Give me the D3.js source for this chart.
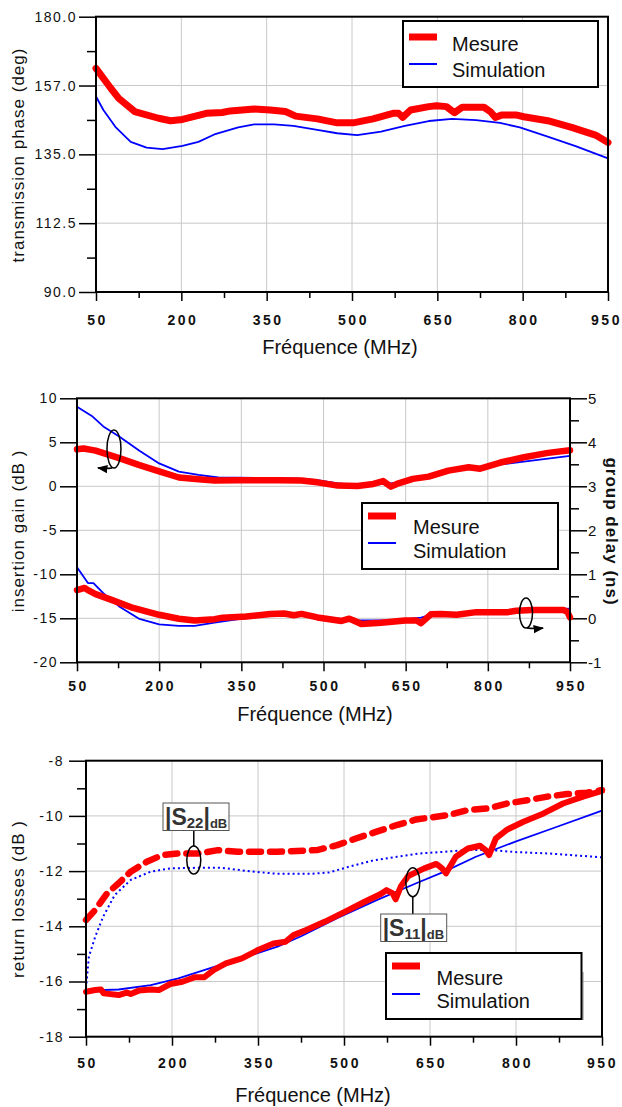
<!DOCTYPE html>
<html lang="fr">
<head>
<meta charset="UTF-8">
<title>Mesure / Simulation</title>
<script src="https://d3js.org/d3.v7.min.js"></script>
<style>
  body { margin: 0; background: #fff; }
  svg text { font-family: "Liberation Sans", Arial, sans-serif; fill: #111; }
  .ytick text { font-size: 14px; letter-spacing: 1.5px; }
  .xtick text { font-size: 14px; font-weight: bold; letter-spacing: 2.5px; }
  .tick line { stroke: #000; stroke-width: 1.5; }
  .xtitle { font-size: 20px; }
  .ytitle { font-size: 17px; letter-spacing: 1px; }
  .leg { font-size: 20px; }
  .grid { stroke: #c8c8c8; stroke-width: 1; }
</style>
</head>
<body>
<svg id="chart" width="622" height="1107"></svg>
<script>
// shared frequency axis (MHz)
const freqTicks = [50, 200, 350, 500, 650, 800, 950]
const freqMinor = [125, 275, 425, 575, 725, 875]

// --- panel 1 : transmission phase (deg)
const phaseTicks = [90, 112.5, 135, 157.5, 180]
const phaseLabels = ["90.0", "112.5", "135.0", "157.0", "180.0"]
const phaseMinor = [101.25, 123.75, 146.25, 168.75]
const phaseMesF = [50, 76, 90, 118, 160, 181, 202, 244, 272, 286, 328, 356, 383, 401, 439, 474, 502, 537, 572, 582, 589, 603, 635, 649, 666, 680, 694, 732, 743, 752, 764, 788, 802, 844, 886, 928, 950]
const phaseMesV = [163.1, 156.6, 153.3, 149, 146.8, 146.0, 146.4, 148.4, 148.7, 149.2, 149.8, 149.5, 149.0, 147.5, 146.6, 145.3, 145.3, 146.6, 148.4, 148.4, 147.1, 149.5, 150.6, 150.9, 150.6, 148.6, 150.4, 150.4, 149, 147.1, 147.9, 147.9, 147.3, 146.0, 143.8, 141.3, 138.9]
const phaseSimF = [50, 63, 84, 111, 139, 167, 202, 230, 258, 300, 328, 363, 397, 439, 474, 509, 551, 593, 635, 676, 718, 760, 795, 844, 893, 950]
const phaseSimV = [153.9, 149.5, 144.0, 139.1, 137.2, 136.7, 137.8, 139.1, 141.5, 143.8, 144.8, 144.8, 144.3, 143, 141.9, 141.3, 142.4, 144.3, 145.9, 146.6, 146.2, 145.3, 143.8, 140.8, 137.7, 133.7]

// --- panel 2 : insertion gain (dB, left) / group delay (ns, right)
const gainTicks = [-20, -15, -10, -5, 0, 5, 10]
const delayTicks = [-1, 0, 1, 2, 3, 4, 5]
const delayMinor = [-0.5, 0.5, 1.5, 2.5, 3.5, 4.5]
const gainMesF = [50, 62, 84, 127, 164, 200, 236, 272, 301, 345, 417, 460, 489, 526, 562, 591, 609, 623, 634, 663, 692, 728, 765, 786, 823, 866, 910, 950]
const gainMesV = [4.2, 4.3, 4.05, 3.2, 2.4, 1.7, 1.0, 0.8, 0.65, 0.7, 0.7, 0.65, 0.45, 0.08, 0.04, 0.27, 0.6, -0.04, 0.27, 0.84, 1.1, 1.78, 2.16, 2.0, 2.7, 3.3, 3.8, 4.1]
const gainSimF = [50, 77, 98, 127, 164, 200, 236, 272, 308, 381, 453, 489, 526, 562, 598, 634, 670, 707, 779, 851, 950]
const gainSimV = [9.05, 8.0, 6.8, 5.65, 4.05, 2.6, 1.67, 1.3, 1.0, 0.95, 0.87, 0.7, 0.34, 0.15, 0.23, 0.4, 1.0, 1.4, 2.16, 2.7, 3.45]
const delayMesF = [50, 64, 70, 84, 113, 149, 200, 236, 265, 301, 316, 359, 403, 428, 446, 460, 489, 533, 547, 555, 569, 605, 649, 670, 678, 696, 714, 743, 779, 837, 852, 880, 938, 945, 950]
const delayMesV = [0.64, 0.69, 0.64, 0.55, 0.42, 0.25, 0.08, -0.01, -0.05, -0.02, 0.015, 0.04, 0.1, 0.11, 0.07, 0.1, 0.02, -0.06, -0.01, -0.05, -0.13, -0.1, -0.05, -0.05, -0.11, 0.09, 0.1, 0.08, 0.14, 0.14, 0.17, 0.19, 0.19, 0.15, 0.02]
const delaySimF = [50, 70, 80, 98, 127, 164, 200, 236, 265, 301, 345, 417, 489, 562, 634, 678, 699, 779, 851, 950]
const delaySimV = [1.16, 0.8, 0.8, 0.57, 0.27, -0.015, -0.14, -0.17, -0.17, -0.1, -0.02, 0.09, 0.04, -0.05, -0.04, 0.015, 0.09, 0.14, 0.19, 0.22]

// --- panel 3 : return losses (dB)
const rlTicks = [-18, -16, -14, -12, -10, -8]
const rlMinor = [-17, -15, -13, -11, -9]
const s22MesF = [50, 66, 87, 107, 128, 156, 183, 211, 246, 280, 315, 384, 453, 488, 522, 557, 592, 626, 661, 682, 716, 751, 785, 820, 855, 889, 924, 950]
const s22MesV = [-13.77, -13.41, -12.8, -12.44, -12.02, -11.66, -11.42, -11.36, -11.36, -11.24, -11.3, -11.3, -11.24, -11.06, -10.81, -10.57, -10.33, -10.13, -10.03, -9.97, -9.79, -9.73, -9.55, -9.43, -9.3, -9.21, -9.16, -9.06]
const s22SimF = [50, 55, 66, 80, 100, 128, 163, 197, 246, 287, 329, 384, 440, 474, 509, 550, 592, 633, 675, 716, 758, 799, 855, 896, 950]
const s22SimV = [-16.25, -15.1, -14.38, -13.65, -12.87, -12.32, -12.02, -11.9, -11.88, -11.88, -11.99, -12.1, -12.1, -12.05, -11.84, -11.62, -11.48, -11.36, -11.3, -11.24, -11.24, -11.31, -11.36, -11.42, -11.5]
const s11MesF = [50, 66, 76, 81, 107, 121, 128, 142, 163, 177, 197, 218, 239, 256, 273, 294, 322, 350, 377, 398, 412, 433, 467, 502, 536, 564, 574, 585, 590, 599, 612, 640, 661, 671, 678, 695, 716, 737, 747, 753, 765, 785, 813, 848, 882, 917, 950]
const s11MesV = [-16.37, -16.31, -16.29, -16.43, -16.49, -16.4, -16.45, -16.33, -16.29, -16.31, -16.09, -16.01, -15.85, -15.85, -15.58, -15.34, -15.16, -14.86, -14.62, -14.56, -14.32, -14.14, -13.83, -13.47, -13.11, -12.83, -12.69, -12.81, -13.02, -12.56, -12.18, -11.9, -11.74, -11.9, -12.08, -11.48, -11.18, -11.08, -11.24, -11.42, -10.81, -10.49, -10.21, -9.91, -9.55, -9.3, -9.09]
const s11SimF = [50, 107, 163, 211, 260, 315, 384, 426, 488, 557, 626, 675, 730, 799, 868, 950]
const s11SimV = [-16.33, -16.29, -16.13, -15.89, -15.56, -15.2, -14.74, -14.35, -13.71, -13.05, -12.44, -12.02, -11.48, -10.93, -10.42, -9.81]

const seriesNames = ["Mesure", "Simulation"]
const RED = "#ff0000", BLUE = "#0000ff"

const svg = d3.select("#chart")
const zip = (f, v) => f.map((d, i) => [d, v[i]])
const plain = d => String(d)   // keep ascii hyphen for negatives

function panel(p) {
    let x = d3.scaleLinear().domain([50, 950]).range([p.left, p.right])
    let y = d3.scaleLinear().domain(p.yDomain).range([p.bottom, p.top])
    let g = svg.append("g")

    // grid
    g.selectAll(".gx").data(freqTicks.slice(1, -1)).enter().append("line")
        .attr("class", "grid")
        .attr("x1", d => x(d)).attr("x2", d => x(d))
        .attr("y1", p.top).attr("y2", p.bottom)
    g.selectAll(".gy").data(p.yTicks.slice(1, -1)).enter().append("line")
        .attr("class", "grid")
        .attr("x1", p.left).attr("x2", p.right)
        .attr("y1", d => y(d)).attr("y2", d => y(d))

    // x axis
    g.append("g").attr("class", "xtick")
        .attr("transform", `translate(0,${p.bottom})`)
        .call(d3.axisBottom(x).tickValues(freqTicks).tickSize(9).tickPadding(p.xPad).tickFormat(plain))
        .call(a => a.select(".domain").remove())
        .call(a => a.selectAll("text").attr("dx", d => d === 950 ? -p.lastShift : 1))
    g.append("g").attr("class", "xtick")
        .attr("transform", `translate(0,${p.bottom})`)
        .call(d3.axisBottom(x).tickValues(freqMinor).tickSize(6).tickFormat(""))
        .call(a => a.select(".domain").remove())

    // left y axis
    let yl = d3.axisLeft(y).tickValues(p.yTicks).tickSize(17).tickPadding(p.yPad)
    yl.tickFormat(p.yLabels ? (d, i) => p.yLabels[i] : plain)
    g.append("g").attr("class", "ytick")
        .attr("transform", `translate(${p.left},0)`)
        .call(yl)
        .call(a => a.select(".domain").remove())
    if (p.yMinor)
        g.append("g").attr("class", "ytick")
            .attr("transform", `translate(${p.left},0)`)
            .call(d3.axisLeft(y).tickValues(p.yMinor).tickSize(9).tickFormat(""))
            .call(a => a.select(".domain").remove())

    // titles
    g.append("text").attr("class", "xtitle")
        .attr("x", p.xTitleX).attr("y", p.xTitleY)
        .attr("text-anchor", "middle").text("Fréquence (MHz)")
    g.append("text").attr("class", "ytitle")
        .attr("transform", `translate(24,${p.yTitleY}) rotate(-90)`)
        .attr("text-anchor", "middle").text(p.yTitle)

    return {x, y, g}
}

function drawLine(g, x, y, data, color, width, dash) {
    let line = d3.line().x(d => x(d[0])).y(d => y(d[1]))
    let path = g.append("path").datum(data)
        .attr("d", line)
        .attr("fill", "none")
        .attr("stroke", color)
        .attr("stroke-width", width)
        .attr("stroke-linejoin", "round")
        .attr("stroke-linecap", "round")
    if (dash) path.attr("stroke-dasharray", dash)
    return path
}

function frame(g, p) {
    g.append("rect")
        .attr("x", p.left).attr("y", p.top)
        .attr("width", p.right - p.left).attr("height", p.bottom - p.top)
        .attr("fill", "none").attr("stroke", "#000").attr("stroke-width", 2)
}

function legend(g, l) {
    if (l.shadow)
        g.append("path")
            .attr("d", `M${l.x + l.w + 1.5},${l.y + 19} V${l.y + l.h + 1}`)
            .attr("stroke", "#888").attr("stroke-width", 1).attr("fill", "none")
    g.append("rect").attr("x", l.x).attr("y", l.y).attr("width", l.w).attr("height", l.h)
        .attr("fill", "#fff").attr("stroke", "#000").attr("stroke-width", 2)
    g.append("line").attr("x1", l.x + 6).attr("x2", l.x + 34)
        .attr("y1", l.redY).attr("y2", l.redY)
        .attr("stroke", RED).attr("stroke-width", 7)
    g.append("line").attr("x1", l.x + 6).attr("x2", l.x + 34)
        .attr("y1", l.blueY).attr("y2", l.blueY)
        .attr("stroke", BLUE).attr("stroke-width", 2)
    g.append("text").attr("class", "leg").attr("x", l.tx).attr("y", l.t1).text(seriesNames[0])
    g.append("text").attr("class", "leg").attr("x", l.tx).attr("y", l.t2).text(seriesNames[1])
}

function loop(g, cx, cy, rx, ry) {
    g.append("ellipse").attr("cx", cx).attr("cy", cy).attr("rx", rx).attr("ry", ry)
        .attr("fill", "none").attr("stroke", "#000").attr("stroke-width", 1.5)
}

// arrowhead marker
svg.append("defs").append("marker")
    .attr("id", "arr").attr("viewBox", "0 0 10 10").attr("refX", 9).attr("refY", 5)
    .attr("markerWidth", 7).attr("markerHeight", 7).attr("orient", "auto-start-reverse")
    .append("path").attr("d", "M0,1 L10,5 L0,9 z").attr("fill", "#000")

// ---------- panel 1
let p1 = {left: 96, right: 608, top: 16.7, bottom: 292, yDomain: [90, 180],
    yTicks: phaseTicks, yLabels: phaseLabels, yMinor: phaseMinor, yPad: 2, xPad: 14, lastShift: 2,
    xTitleX: 340, xTitleY: 354, yTitle: "transmission phase (deg)", yTitleY: 155}
let a = panel(p1)
drawLine(a.g, a.x, a.y, zip(phaseSimF, phaseSimV), BLUE, 1.8)
drawLine(a.g, a.x, a.y, zip(phaseMesF, phaseMesV), RED, 7)
frame(a.g, p1)
legend(a.g, {x: 403, y: 21, w: 195, h: 66, redY: 37, blueY: 64, tx: 452, t1: 51, t2: 76.5})

// ---------- panel 2
let p2 = {left: 77, right: 570, top: 398.3, bottom: 662.3, yDomain: [-20, 10],
    yTicks: gainTicks, yPad: 2, xPad: 9.5, lastShift: -1,
    xTitleX: 315, xTitleY: 720.5, yTitle: "insertion gain (dB )", yTitleY: 531}
let b = panel(p2)
let yR = d3.scaleLinear().domain([-1, 5]).range([p2.bottom, p2.top])
b.g.append("g").attr("class", "ytick")
    .attr("transform", `translate(${p2.right},0)`)
    .call(d3.axisRight(yR).tickValues(delayTicks).tickSize(17).tickPadding(1).tickFormat(plain))
    .call(a => a.select(".domain").remove())
    .selectAll("text").style("font-size", "15px").style("letter-spacing", "0px")
b.g.append("g").attr("class", "ytick")
    .attr("transform", `translate(${p2.right},0)`)
    .call(d3.axisRight(yR).tickValues(delayMinor).tickSize(9).tickFormat(""))
    .call(a => a.select(".domain").remove())
b.g.append("text").attr("class", "ytitle")
    .attr("transform", `translate(606,531.5) rotate(90)`)
    .attr("text-anchor", "middle").style("font-weight", "bold")
    .text("group delay (ns)")
drawLine(b.g, b.x, b.y, zip(gainSimF, gainSimV), BLUE, 1.8)
drawLine(b.g, b.x, yR, zip(delaySimF, delaySimV), BLUE, 1.8)
drawLine(b.g, b.x, b.y, zip(gainMesF, gainMesV), RED, 6.5)
drawLine(b.g, b.x, yR, zip(delayMesF, delayMesV), RED, 6.5)
frame(b.g, p2)
legend(b.g, {x: 362, y: 503, w: 196, h: 66, redY: 516, blueY: 543, tx: 413, t1: 534, t2: 558})
// side markers (which axis each pair belongs to)
loop(b.g, b.x(117.5), b.y(4.24), 7, 19)
b.g.append("path").attr("d", `M${b.x(117.5) - 2},${b.y(4.24) + 19} Q${b.x(117.5) - 8},${b.y(4.24) + 20} ${b.x(117.5) - 16},${b.y(4.24) + 19}`)
    .attr("fill", "none").attr("stroke", "#000").attr("stroke-width", 1.5).attr("marker-end", "url(#arr)")
loop(b.g, b.x(869.7), yR(0.12), 6.5, 15)
b.g.append("path").attr("d", `M${b.x(869.7) + 1},${yR(0.12) + 15} Q${b.x(869.7) + 8},${yR(0.12) + 16} ${b.x(869.7) + 17},${yR(0.12) + 15}`)
    .attr("fill", "none").attr("stroke", "#000").attr("stroke-width", 1.5).attr("marker-end", "url(#arr)")

// ---------- panel 3
let p3 = {left: 86, right: 602, top: 760.7, bottom: 1036.7, yDomain: [-18, -8],
    yTicks: rlTicks, yMinor: rlMinor, yPad: 5, xPad: 12, lastShift: 0,
    xTitleX: 313, xTitleY: 1101.5, yTitle: "return losses (dB )", yTitleY: 899}
let c = panel(p3)
drawLine(c.g, c.x, c.y, zip(s22SimF, s22SimV), BLUE, 2, "2,3").attr("stroke-linecap", "butt")
drawLine(c.g, c.x, c.y, zip(s11SimF, s11SimV), BLUE, 1.8)
drawLine(c.g, c.x, c.y, zip(s22MesF, s22MesV), RED, 6.5, "12,9")
drawLine(c.g, c.x, c.y, zip(s11MesF, s11MesV), RED, 6)
frame(c.g, p3)
legend(c.g, {x: 386, y: 953, w: 195.5, h: 66, shadow: true, redY: 966, blueY: 994, tx: 436.5, t1: 985, t2: 1008})

function sLabel(g, bx, by, sub) {
    g.append("rect").attr("x", bx).attr("y", by).attr("width", 66).attr("height", 27.5)
        .attr("fill", "#fff").attr("stroke", "#555").attr("stroke-width", 1)
    let t = g.append("text").attr("x", bx + 2).attr("y", by + 22)
        .style("font-weight", "bold").style("fill", "#333").style("font-size", "23px")
    t.append("tspan").text("|S")
    t.append("tspan").attr("dy", 3).style("font-size", "15px").text(sub)
    t.append("tspan").attr("dy", -3).text("|")
    t.append("tspan").attr("dy", 3).style("font-size", "13px").text("dB")
}
// |S22| marker
loop(c.g, c.x(238), c.y(-11.6), 7, 14)
c.g.append("line").attr("x1", c.x(238)).attr("x2", c.x(238))
    .attr("y1", 830).attr("y2", c.y(-11.6) - 14).attr("stroke", "#000").attr("stroke-width", 1.5)
sLabel(c.g, 163, 803, "22")
// |S11| marker
loop(c.g, c.x(620), c.y(-12.4), 7, 14.5)
c.g.append("line").attr("x1", c.x(620)).attr("x2", c.x(620))
    .attr("y1", c.y(-12.4) + 14.5).attr("y2", 914).attr("stroke", "#000").attr("stroke-width", 1.5)
sLabel(c.g, 380.7, 914, "11")
</script>
</body>
</html>
